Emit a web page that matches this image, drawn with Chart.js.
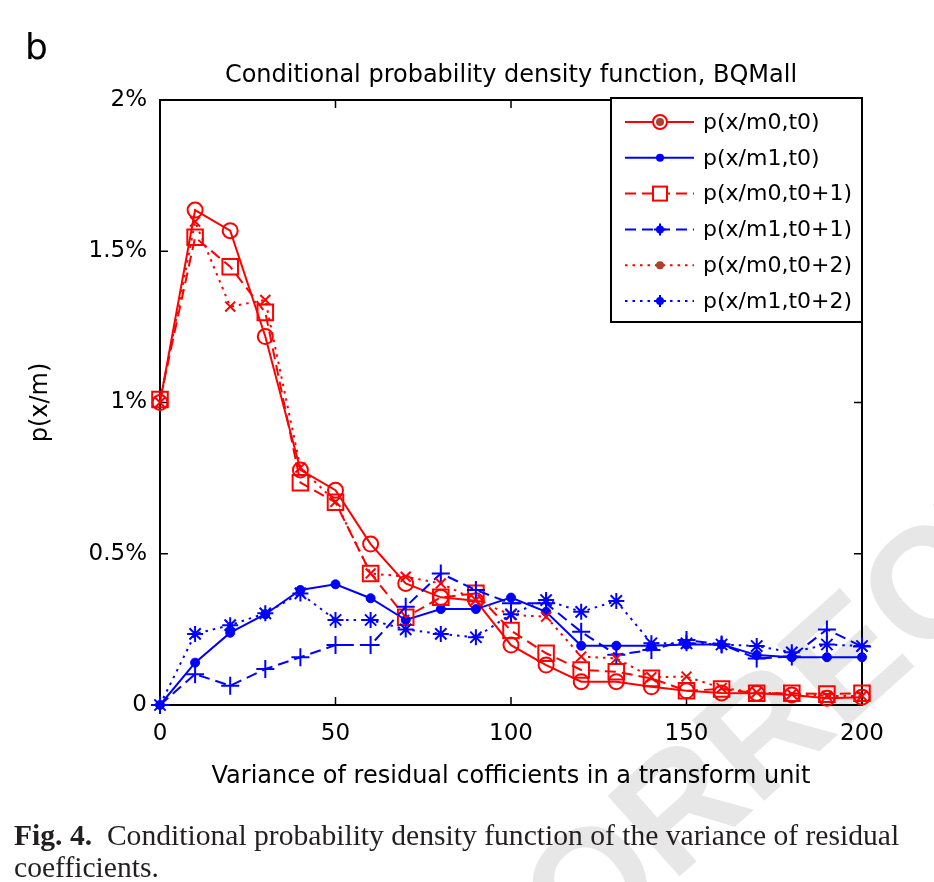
<!DOCTYPE html>
<html>
<head>
<meta charset="utf-8">
<script src="https://cdn.jsdelivr.net/npm/chart.js@4.4.1/dist/chart.umd.min.js"></script>
<style>
html,body{margin:0;padding:0;background:#fff;}
#wrap{width:934px;height:882px;position:relative;}
</style>
</head>
<body>
<div id="wrap"><canvas id="c" width="934" height="882"></canvas></div>
<script>
// ---- data (values in %) ----
const xValues = [0,10,20,30,40,50,60,70,80,90,100,110,120,130,140,150,160,170,180,190,200];
const m0t0 = [1.00,1.636,1.568,1.218,0.777,0.710,0.532,0.402,0.356,0.345,0.198,0.132,0.077,0.077,0.060,0.047,0.040,0.039,0.033,0.022,0.026];
const m1t0 = [0,0.140,0.239,0.300,0.380,0.399,0.353,0.281,0.317,0.317,0.355,0.308,0.196,0.196,0.196,0.200,0.200,0.165,0.158,0.158,0.158];
const m0t1 = [1.01,1.546,1.449,1.298,0.735,0.670,0.435,0.290,0.356,0.369,0.246,0.171,0.116,0.110,0.088,0.047,0.053,0.039,0.039,0.036,0.039];
const m1t1 = [0,0.102,0.064,0.119,0.158,0.198,0.198,0.325,0.435,0.380,0.336,0.336,0.242,0.166,0.182,0.215,0.200,0.154,0.160,0.250,0.193];
const m0t2 = [1.00,1.598,1.317,1.339,0.785,0.672,0.435,0.424,0.402,0.347,0.298,0.292,0.160,0.154,0.092,0.094,0.056,0.042,0.036,0.030,0.030];
const m1t2 = [0,0.235,0.264,0.303,0.369,0.281,0.281,0.250,0.235,0.224,0.300,0.347,0.308,0.344,0.204,0.204,0.200,0.195,0.174,0.200,0.195];

const seriesLabels = ['p(x/m0,t0)','p(x/m1,t0)','p(x/m0,t0+1)','p(x/m1,t0+1)','p(x/m0,t0+2)','p(x/m1,t0+2)'];
const xTickValues = [0,50,100,150,200];
const yTickValues = [0,0.5,1,1.5,2];

const panelLabel = 'b';
const chartTitle = 'Conditional probability density function, BQMall';
const xAxisTitle = 'Variance of residual cofficients in a transform unit';
const yAxisTitle = 'p(x/m)';
const captionBold = 'Fig. 4.';
const captionLine1 = 'Conditional probability density function of the variance of residual';
const captionLine2 = 'coefficients.';
const watermarkText = 'UNCORRECTED PROOF';

// ---- styles ----
const RED = '#ff0000', BLUE = '#0000ff';
const seriesData = [m0t0, m1t0, m0t1, m1t1, m0t2, m1t2];
const styles = [
  {color: RED,  dash: [],      point: 'circle',   r: 7.5, fill: 'rgba(0,0,0,0)', pw: 2},
  {color: BLUE, dash: [],      point: 'circle',   r: 4.5, fill: BLUE,            pw: 1},
  {color: RED,  dash: [11,6],  point: 'rect',     r: 11,  fill: 'rgba(0,0,0,0)', pw: 2},
  {color: BLUE, dash: [11,6],  point: 'cross',    r: 9,   fill: BLUE,            pw: 2},
  {color: RED,  dash: [2.5,5], point: 'crossRot', r: 7,   fill: RED,             pw: 2},
  {color: BLUE, dash: [2.5,5], point: 'star',     r: 8,   fill: BLUE,            pw: 2}
];

const datasets = seriesData.map((arr, i) => ({
  label: seriesLabels[i],
  data: xValues.map((x, j) => ({x: x, y: arr[j]})),
  borderColor: styles[i].color,
  borderWidth: 2,
  borderDash: styles[i].dash,
  pointStyle: styles[i].point,
  pointRadius: styles[i].r,
  pointBorderWidth: styles[i].pw,
  pointBorderColor: styles[i].color,
  pointBackgroundColor: styles[i].fill,
  tension: 0,
  fill: false,
  clip: false,
  order: 5 - i
}));

const FONT = 'DejaVu Sans';

function drawLegendMarker(ctx, i, x, y) {
  const c = styles[i].color;
  ctx.save();
  ctx.setLineDash([]);
  ctx.strokeStyle = c;
  ctx.fillStyle = c;
  ctx.lineWidth = 2;
  if (i === 0) {
    ctx.beginPath(); ctx.arc(x, y, 7, 0, Math.PI*2); ctx.fillStyle = '#fff'; ctx.fill(); ctx.stroke();
    ctx.beginPath(); ctx.arc(x, y, 4, 0, Math.PI*2); ctx.fillStyle = '#b0402c'; ctx.fill();
  } else if (i === 1) {
    ctx.beginPath(); ctx.arc(x, y, 4, 0, Math.PI*2); ctx.fill();
  } else if (i === 2) {
    ctx.fillStyle = '#fff'; ctx.fillRect(x-7, y-7, 14, 14); ctx.strokeRect(x-7, y-7, 14, 14);
  } else if (i === 3) {
    ctx.beginPath(); ctx.arc(x, y, 4, 0, Math.PI*2); ctx.fill();
    ctx.beginPath(); ctx.moveTo(x-6,y); ctx.lineTo(x+6,y); ctx.moveTo(x,y-6); ctx.lineTo(x,y+6); ctx.stroke();
  } else if (i === 4) {
    ctx.beginPath(); ctx.arc(x, y, 4, 0, Math.PI*2); ctx.fillStyle = '#b0402c'; ctx.fill();
  } else {
    ctx.beginPath(); ctx.arc(x, y, 4, 0, Math.PI*2); ctx.fill();
    ctx.beginPath(); ctx.moveTo(x-6,y); ctx.lineTo(x+6,y); ctx.moveTo(x,y-6); ctx.lineTo(x,y+6); ctx.stroke();
  }
  ctx.restore();
}

const decor = {
  id: 'decor',
  beforeDraw(chart) {
    const ctx = chart.ctx;
    ctx.save();
    ctx.fillStyle = '#fff';
    ctx.fillRect(0, 0, chart.width, chart.height);
    // faint watermark
    ctx.font = 'bold 157px "Liberation Sans"';
    ctx.fillStyle = '#e7e7e7';
    ctx.textBaseline = 'middle';
    ctx.translate(851, 665);
    ctx.rotate(-41.8 * Math.PI / 180);
    const pre = ctx.measureText('UNCORRE').width - ctx.measureText('E').width / 2;
    ctx.fillText(watermarkText, -pre, 0);
    ctx.restore();
  },
  beforeDatasetsDraw(chart) {
    const ctx = chart.ctx;
    const a = chart.chartArea;
    const xs = chart.scales.x, ys = chart.scales.y;
    ctx.save();
    ctx.strokeStyle = '#000';
    ctx.lineWidth = 1.5;
    const tl = 8;
    ctx.beginPath();
    xTickValues.forEach(v => {
      const px = xs.getPixelForValue(v);
      ctx.moveTo(px, a.bottom); ctx.lineTo(px, a.bottom - tl);
      ctx.moveTo(px, a.top); ctx.lineTo(px, a.top + tl);
    });
    yTickValues.forEach(v => {
      const py = ys.getPixelForValue(v);
      ctx.moveTo(a.left, py); ctx.lineTo(a.left + tl, py);
      ctx.moveTo(a.right, py); ctx.lineTo(a.right - tl, py);
    });
    ctx.stroke();
    ctx.lineWidth = 2;
    ctx.strokeRect(a.left, a.top, a.right - a.left, a.bottom - a.top);
    ctx.restore();
  },
  afterDatasetsDraw(chart) {
    const ctx = chart.ctx;
    // legend
    const L = 611, T = 98, R = 862, B = 322;
    ctx.save();
    ctx.fillStyle = '#fff';
    ctx.fillRect(L, T, R - L, B - T);
    ctx.strokeStyle = '#000';
    ctx.lineWidth = 2;
    ctx.strokeRect(L, T, R - L, B - T);
    ctx.font = '22px "' + FONT + '"';
    ctx.textBaseline = 'middle';
    seriesLabels.forEach((lab, i) => {
      const y = 122 + i * 35.8;
      ctx.save();
      ctx.strokeStyle = styles[i].color;
      ctx.lineWidth = 2;
      ctx.setLineDash(styles[i].dash);
      ctx.beginPath(); ctx.moveTo(625, y); ctx.lineTo(694, y); ctx.stroke();
      ctx.restore();
      drawLegendMarker(ctx, i, 660, y);
      ctx.fillStyle = '#000';
      ctx.fillText(lab, 703, y + 1);
    });
    ctx.restore();
  },
  afterDraw(chart) {
    const ctx = chart.ctx;
    ctx.save();
    ctx.fillStyle = '#000';
    ctx.textBaseline = 'alphabetic';
    ctx.font = '36px "' + FONT + '"';
    ctx.fillText(panelLabel, 25, 59);
    ctx.font = '24px "' + FONT + '"';
    ctx.textAlign = 'center';
    ctx.fillText(chartTitle, 511, 82);
    // caption
    ctx.textAlign = 'left';
    ctx.fillStyle = '#231f20';
    ctx.font = 'bold 29.6px "Liberation Serif"';
    ctx.fillText(captionBold, 14, 845);
    const w = ctx.measureText(captionBold + '  ').width;
    ctx.font = '29.6px "Liberation Serif"';
    ctx.fillText(captionLine1, 14 + w, 845);
    ctx.fillText(captionLine2, 14, 877);
    ctx.restore();
  }
};

new Chart(document.getElementById('c'), {
  type: 'line',
  data: {datasets: datasets},
  plugins: [decor],
  options: {
    responsive: false,
    animation: false,
    devicePixelRatio: 1,
    layout: {padding: {left: 0, top: 100, right: 72, bottom: 77}},
    plugins: {legend: {display: false}, title: {display: false}, tooltip: {enabled: false}},
    scales: {
      x: {
        type: 'linear', min: 0, max: 200,
        grid: {display: false}, border: {display: false},
        afterBuildTicks: s => { s.ticks = xTickValues.map(v => ({value: v})); },
        afterFit: s => { s.height = 100; },
        ticks: {color: '#000', font: {family: FONT, size: 23}, padding: 7, maxRotation: 0, autoSkip: false},
        title: {display: true, text: xAxisTitle, color: '#000', font: {family: FONT, size: 24}, padding: {top: 0, bottom: 14}}
      },
      y: {
        type: 'linear', min: 0, max: 2,
        grid: {display: false}, border: {display: false},
        afterBuildTicks: s => { s.ticks = yTickValues.map(v => ({value: v})); },
        afterFit: s => { s.width = 160; },
        ticks: {color: '#000', font: {family: FONT, size: 23}, padding: 5, callback: v => v === 0 ? '0' : v + '%'},
        title: {display: true, text: yAxisTitle, color: '#000', font: {family: FONT, size: 24}, padding: {top: 26, bottom: 0}}
      }
    }
  }
});
</script>
</body>
</html>
